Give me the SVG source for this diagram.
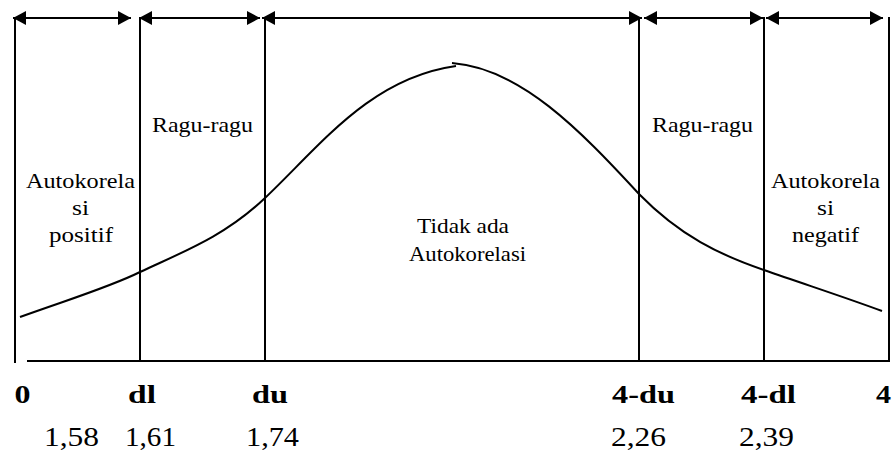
<svg xmlns="http://www.w3.org/2000/svg" width="896" height="454" viewBox="0 0 896 454">
<style>
.ln{stroke:#000;stroke-width:2;fill:none}
.arr{stroke:#000;stroke-width:2;fill:none;marker-start:url(#ah);marker-end:url(#ah)}
text{font-family:'Liberation Serif','DejaVu Serif',serif;fill:#000;text-anchor:middle}
.t{font-size:22px}
.b{font-size:26px;font-weight:bold}
.n{font-size:27px}
</style>
<defs>
<marker id="ah" markerUnits="userSpaceOnUse" markerWidth="14" markerHeight="14" refX="13" refY="7" orient="auto-start-reverse">
<path d="M0,0 L13,7 L0,14 z" fill="#000"/>
</marker>
</defs>
<rect width="896" height="454" fill="#fff"/>
<g id="connectors">
<line class="arr" x1="13" y1="18" x2="131" y2="18"/>
<line class="arr" x1="139" y1="18" x2="260" y2="18"/>
<line class="arr" x1="262" y1="18" x2="642" y2="18"/>
<line class="arr" x1="644" y1="18" x2="763" y2="18"/>
<line class="arr" x1="766" y1="18" x2="883" y2="18"/>
</g>
<g id="axis">
<line class="ln" x1="15" y1="17" x2="15" y2="363"/>
<line class="ln" x1="140" y1="17" x2="140" y2="362"/>
<line class="ln" x1="265" y1="17" x2="265" y2="362"/>
<line class="ln" x1="639" y1="17" x2="639" y2="362"/>
<line class="ln" x1="764" y1="17" x2="764" y2="362"/>
<line class="ln" x1="889" y1="17" x2="889" y2="362"/>
<line class="ln" x1="27" y1="361" x2="889" y2="361"/>
</g>
<g id="curve">
<path class="ln" d="M20,317 C70,299 110,287 140,272 C185,251 225,236 265,198 C320,146 370,78 456,66"/>
<path class="ln" d="M452,63 C520,68 580,130 639,194 C680,236 720,255 764,270 C810,286 850,299 882,311"/>
</g>
<g id="region-pos">
<text class="t" x="80.5" y="188" textLength="109" lengthAdjust="spacingAndGlyphs">Autokorela</text>
<text class="t" x="80.5" y="215" textLength="17" lengthAdjust="spacingAndGlyphs">si</text>
<text class="t" x="81" y="242" textLength="64" lengthAdjust="spacingAndGlyphs">positif</text>
</g>
<g id="region-ragu1">
<text class="t" x="202.5" y="132" textLength="101" lengthAdjust="spacingAndGlyphs">Ragu-ragu</text>
</g>
<g id="region-none">
<text class="t" x="463" y="233" textLength="92" lengthAdjust="spacingAndGlyphs">Tidak ada</text>
<text class="t" x="467.5" y="261" textLength="117" lengthAdjust="spacingAndGlyphs">Autokorelasi</text>
</g>
<g id="region-ragu2">
<text class="t" x="702.5" y="132" textLength="101" lengthAdjust="spacingAndGlyphs">Ragu-ragu</text>
</g>
<g id="region-neg">
<text class="t" x="825.5" y="188" textLength="109" lengthAdjust="spacingAndGlyphs">Autokorela</text>
<text class="t" x="825.5" y="215" textLength="17" lengthAdjust="spacingAndGlyphs">si</text>
<text class="t" x="825.5" y="242" textLength="67" lengthAdjust="spacingAndGlyphs">negatif</text>
</g>
<g id="labels">
<text class="b" x="22.5" y="403" textLength="16" lengthAdjust="spacingAndGlyphs">0</text>
<text class="b" x="142" y="403" textLength="28" lengthAdjust="spacingAndGlyphs">dl</text>
<text class="b" x="270" y="403" textLength="36" lengthAdjust="spacingAndGlyphs">du</text>
<text class="b" x="643.5" y="403" textLength="63" lengthAdjust="spacingAndGlyphs">4-du</text>
<text class="b" x="768.5" y="403" textLength="55" lengthAdjust="spacingAndGlyphs">4-dl</text>
<text class="b" x="883.5" y="403" textLength="15" lengthAdjust="spacingAndGlyphs">4</text>
<text class="n" x="71.5" y="446" textLength="55" lengthAdjust="spacingAndGlyphs">1,58</text>
<text class="n" x="150.5" y="446" textLength="51" lengthAdjust="spacingAndGlyphs">1,61</text>
<text class="n" x="272.5" y="446" textLength="53" lengthAdjust="spacingAndGlyphs">1,74</text>
<text class="n" x="638.5" y="446" textLength="55" lengthAdjust="spacingAndGlyphs">2,26</text>
<text class="n" x="766.5" y="446" textLength="55" lengthAdjust="spacingAndGlyphs">2,39</text>
</g>
</svg>
